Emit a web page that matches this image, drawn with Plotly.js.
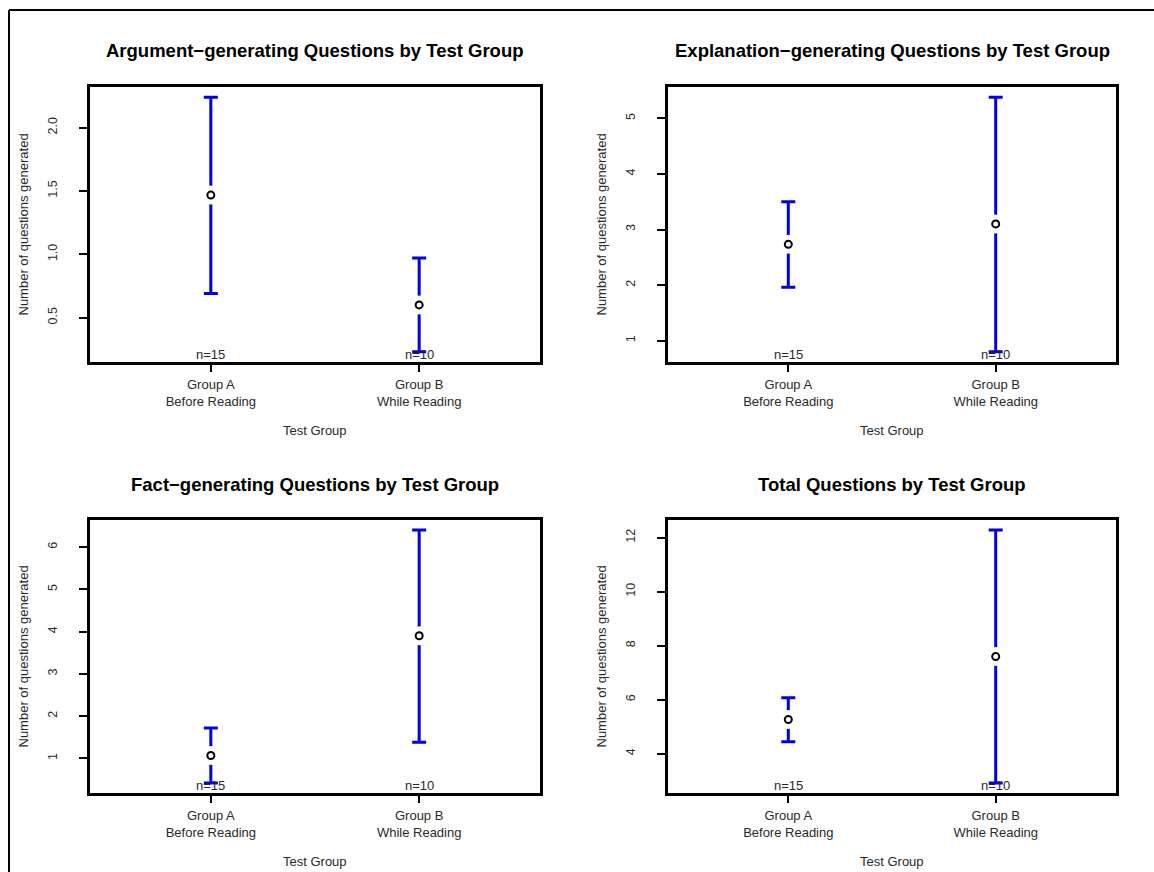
<!DOCTYPE html>
<html>
<head>
<meta charset="utf-8">
<script src="https://cdn.plot.ly/plotly-3.0.1.min.js"></script>
<style>html,body{margin:0;padding:0;background:#fff;}#chart{width:1154px;height:872px;}</style>
</head>
<body>
<div id="chart"></div>
<script>
// ---- data ----
const groups = ["Group A<br>Before Reading", "Group B<br>While Reading"];
const nLabels = ["n=15", "n=10"];

const panelTitles = [
  "Argument\u2212generating Questions by Test Group",
  "Explanation\u2212generating Questions by Test Group",
  "Fact\u2212generating Questions by Test Group",
  "Total Questions by Test Group"
];

const argMean  = [1.467, 0.60];
const argLower = [0.69, 0.23];
const argUpper = [2.24, 0.97];

const expMean  = [2.733, 3.10];
const expLower = [1.96, 0.80];
const expUpper = [3.50, 5.38];

const factMean  = [1.067, 3.90];
const factLower = [0.42, 1.38];
const factUpper = [1.72, 6.40];

const totMean  = [5.267, 7.60];
const totLower = [4.44, 2.92];
const totUpper = [6.07, 12.28];

const yTickStep = [0.5, 1, 1, 2];
const yTickFormat = [".1f", "d", "d", "d"];
const xTitle = "Test Group";
const yTitle = "Number of questions generated";

// ---- layout helpers ----
const W = 1154, H = 872;
const colX = [[90, 540], [668, 1116]];
const rowY = [[87, 362], [520, 793]];
const FONT = "Liberation Sans, Arial, Helvetica, sans-serif";
const BLUE = "#0000e6";
const TXT = "#2a2a2a";

const series = [
  {m: argMean, lo: argLower, hi: argUpper},
  {m: expMean, lo: expLower, hi: expUpper},
  {m: factMean, lo: factLower, hi: factUpper},
  {m: totMean, lo: totLower, hi: totUpper}
];

const data = [];
const layout = {
  width: W, height: H,
  margin: {l: 0, r: 0, t: 0, b: 0},
  paper_bgcolor: "#fff", plot_bgcolor: "#fff",
  showlegend: false,
  font: {family: FONT, color: TXT},
  annotations: [],
  shapes: [
    {type: "line", xref: "paper", yref: "paper", x0: 9/W, x1: 9/W, y0: 0, y1: 1 - 10/H, line: {color: "#000", width: 2}},
    {type: "line", xref: "paper", yref: "paper", x0: 9/W, x1: 1, y0: 1 - 10/H, y1: 1 - 10/H, line: {color: "#000", width: 2}}
  ]
};

series.forEach((s, k) => {
  const idx = k + 1;
  const xa = "x" + (idx === 1 ? "" : idx), ya = "y" + (idx === 1 ? "" : idx);
  const xk = "xaxis" + (idx === 1 ? "" : idx), yk = "yaxis" + (idx === 1 ? "" : idx);
  const c = colX[k % 2], r = rowY[Math.floor(k / 2)];

  const lo = Math.min(...s.lo), hi = Math.max(...s.hi);
  const pad = 0.04 * (hi - lo);

  layout[xk] = {
    domain: [c[0] / W, c[1] / W],
    anchor: ya,
    type: "category",
    range: [-0.58, 1.58],
    showgrid: false, zeroline: false,
    showline: true, mirror: true, linecolor: "#000", linewidth: 3,
    ticks: "outside", ticklen: 7, tickwidth: 2, tickcolor: "#000",
    tickfont: {family: FONT, size: 13, color: TXT},
    ticklabelstandoff: 1,
    fixedrange: true
  };
  layout[yk] = {
    domain: [1 - r[1] / H, 1 - r[0] / H],
    anchor: xa,
    range: [lo - pad, hi + pad],
    dtick: yTickStep[k], tick0: 0,
    tickformat: yTickFormat[k],
    tickangle: -90,
    showgrid: false, zeroline: false,
    showline: true, mirror: true, linecolor: "#000", linewidth: 3,
    ticks: "outside", ticklen: 8, tickwidth: 2, tickcolor: "#000",
    tickfont: {family: FONT, size: 12.5, color: TXT},
    ticklabelstandoff: 17,
    fixedrange: true
  };

  // error bars
  data.push({
    type: "scatter", mode: "markers", x: groups, y: s.m, xaxis: xa, yaxis: ya,
    marker: {size: 1, color: "rgba(0,0,0,0)"},
    error_y: {
      type: "data", symmetric: false,
      array: s.hi.map((v, i) => v - s.m[i]),
      arrayminus: s.m.map((v, i) => v - s.lo[i]),
      color: BLUE, thickness: 3, width: 7
    },
    hoverinfo: "skip"
  });
  // white gap around mean
  data.push({
    type: "scatter", mode: "markers", x: groups, y: s.m, xaxis: xa, yaxis: ya,
    marker: {size: 19, color: "#fff", line: {width: 0}}, hoverinfo: "skip"
  });
  // mean point
  data.push({
    type: "scatter", mode: "markers", x: groups, y: s.m, xaxis: xa, yaxis: ya,
    marker: {symbol: "circle-open", size: 7, color: "#000", line: {width: 2, color: "#000"}}
  });

  // titles
  layout.annotations.push({
    xref: xa + " domain", yref: ya + " domain", x: 0.5, y: 1,
    xanchor: "center", yanchor: "middle", yshift: 36, showarrow: false,
    text: panelTitles[k], font: {family: FONT, size: 18.5, color: "#000", weight: "bold"}
  });
  layout.annotations.push({
    xref: xa + " domain", yref: ya + " domain", x: 0.5, y: 0,
    xanchor: "center", yanchor: "middle", yshift: -68, showarrow: false,
    text: xTitle, font: {family: FONT, size: 13, color: TXT}
  });
  layout.annotations.push({
    xref: xa + " domain", yref: ya + " domain", x: 0, y: 0.5,
    xanchor: "center", yanchor: "middle", xshift: -67, showarrow: false, textangle: -90,
    text: yTitle, font: {family: FONT, size: 13, color: TXT}
  });
  nLabels.forEach((t, i) => {
    layout.annotations.push({
      xref: xa, yref: ya + " domain", x: i, y: 0,
      xanchor: "center", yanchor: "middle", yshift: 8, showarrow: false,
      text: t, font: {family: FONT, size: 13, color: TXT}
    });
  });
});

Plotly.newPlot("chart", data, layout, {displayModeBar: false, staticPlot: true});
</script>
</body>
</html>
